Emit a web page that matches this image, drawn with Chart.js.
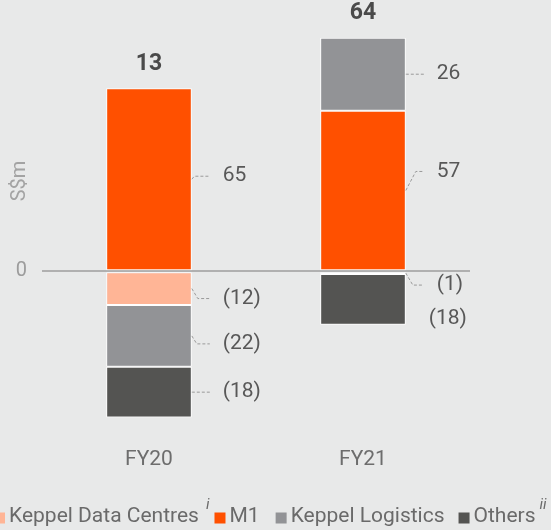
<!DOCTYPE html>
<html>
<head>
<meta charset="utf-8">
<script src="https://cdn.jsdelivr.net/npm/chart.js@4.4.1/dist/chart.umd.min.js"></script>
<style>
  html, body { margin: 0; padding: 0; background: #e8e9e9; }
  #wrap { width: 551px; height: 530px; position: relative; overflow: hidden; }
</style>
</head>
<body>
<div id="wrap"><canvas id="chart" width="551" height="530"></canvas></div>
<script>
// values in S$m
const categories = ['FY20', 'FY21'];
const dataCentres = [-12, -1];
const m1 = [65, 57];
const logistics = [-22, 26];
const others = [-18, -18];
const totals = [13, 64];

const colors = {
    dataCentres: '#ffb596',
    m1: '#ff5000',
    logistics: '#929396',
    others: '#545452'
};

// where each value label sits relative to its segment (pixels), per dataset then per bar
const labelShift = [
    [{ dx: 0, dy: 10, leader: true }, { dx: 0, dy: 12, leader: true }],
    [{ dx: 0, dy: -3, leader: true }, { dx: 0, dy: -19, leader: true }],
    [{ dx: 0, dy: 8, leader: true }, { dx: 0, dy: 0, leader: true }],
    [{ dx: 0, dy: 0, leader: true }, { dx: -8, dy: 19, leader: false }]
];

// legend entries; gapAfter / supGap are spacing in pixels
const legendItems = [
    { text: 'Keppel Data Centres', sup: 'i', supGap: 9, gapAfter: 3, color: colors.dataCentres },
    { text: 'M1', sup: '', supGap: 0, gapAfter: 16, color: colors.m1 },
    { text: 'Keppel Logistics', sup: '', supGap: 0, gapAfter: 14, color: colors.logistics },
    { text: 'Others', sup: 'ii', supGap: 6, gapAfter: 0, color: colors.others }
];

function fmt(v) {
    return v < 0 ? '(' + Math.abs(v) + ')' : String(v);
}

const annotate = {
    id: 'annotate',
    afterDatasetsDraw(chart) {
        const ctx = chart.ctx;
        ctx.save();

        // segment labels with dashed leaders
        chart.data.datasets.forEach(function (ds, di) {
            const meta = chart.getDatasetMeta(di);
            meta.data.forEach(function (bar, i) {
                const v = ds.data[i];
                const shift = labelShift[di][i];
                const edge = bar.x + bar.width / 2;
                const cy = (bar.y + bar.base) / 2;
                const ly = cy + shift.dy;
                if (shift.leader) {
                    ctx.strokeStyle = '#9a9a9a';
                    ctx.lineWidth = 1;
                    ctx.setLineDash([3, 2]);
                    ctx.beginPath();
                    ctx.moveTo(edge, cy);
                    const diag = Math.min(10, Math.abs(shift.dy) / 2 + 1);
                    ctx.lineTo(edge + diag, ly);
                    ctx.lineTo(edge + 18, ly);
                    ctx.stroke();
                    ctx.setLineDash([]);
                }
                ctx.fillStyle = '#585858';
                ctx.font = '21px Roboto';
                ctx.textAlign = 'left';
                ctx.textBaseline = 'middle';
                ctx.fillText(fmt(v), edge + 31 + shift.dx, ly);
            });
        });

        // totals above the bars
        const top = chart.getDatasetMeta(2);
        const yScale = chart.scales.y;
        ctx.font = 'bold 23px Roboto';
        ctx.fillStyle = '#4a4a4a';
        ctx.textAlign = 'center';
        ctx.textBaseline = 'middle';
        top.data.forEach(function (bar, i) {
            const highest = Math.max(m1[i] + Math.max(logistics[i], 0), 0);
            ctx.fillText(String(totals[i]), bar.x, yScale.getPixelForValue(highest) - 24);
        });

        // axis title
        ctx.save();
        ctx.translate(20, 181);
        ctx.rotate(-Math.PI / 2);
        ctx.font = '20px Roboto';
        ctx.fillStyle = '#a3a3a3';
        ctx.fillText('S$m', 0, 0);
        ctx.restore();

        // legend along the bottom, allowed to run past the left edge like the original
        ctx.textBaseline = 'middle';
        ctx.textAlign = 'left';
        const textFont = '21px Roboto';
        const supFont = 'italic 15px Roboto';
        const box = 11, gapBox = 4;
        let x = -6;
        const ly = 517;
        legendItems.forEach(function (it) {
            ctx.fillStyle = it.color;
            ctx.fillRect(x, ly - box / 2 + 1, box, box);
            ctx.fillStyle = '#6a6a6a';
            ctx.font = textFont;
            const tx = x + box + gapBox;
            ctx.fillText(it.text, tx, ly);
            x = tx + ctx.measureText(it.text).width;
            if (it.sup) {
                ctx.font = supFont;
                ctx.fillText(it.sup, x + it.supGap - 2, ly - 12);
                x += it.supGap + ctx.measureText(it.sup).width;
            }
            x += it.gapAfter;
        });

        ctx.restore();
    }
};

new Chart(document.getElementById('chart'), {
    type: 'bar',
    data: {
        labels: categories,
        datasets: [
            { label: 'Keppel Data Centres', data: dataCentres, backgroundColor: colors.dataCentres },
            { label: 'M1', data: m1, backgroundColor: colors.m1 },
            { label: 'Keppel Logistics', data: logistics, backgroundColor: colors.logistics },
            { label: 'Others', data: others, backgroundColor: colors.others }
        ].map(function (d) {
            return Object.assign(d, {
                borderColor: '#ffffff',
                borderWidth: 1,
                borderSkipped: false,
                barPercentage: 0.4,
                categoryPercentage: 1
            });
        })
    },
    options: {
        responsive: false,
        animation: false,
        layout: { padding: { top: 32, right: 81, bottom: 50, left: 0 } },
        plugins: {
            legend: { display: false },
            tooltip: { enabled: false }
        },
        scales: {
            x: {
                stacked: true,
                grid: { display: false, drawTicks: false },
                border: { display: false },
                ticks: { color: '#6d6d6d', font: { family: 'Roboto', size: 21 }, padding: 7 },
                afterFit: function (s) { s.height = 40; }
            },
            y: {
                stacked: true,
                min: -60,
                max: 85,
                border: { display: false },
                grid: {
                    drawTicks: false,
                    color: function (c) { return c.tick && c.tick.value === 0 ? '#b0b0b0' : 'rgba(0,0,0,0)'; },
                    lineWidth: function (c) { return c.tick && c.tick.value === 0 ? 2 : 0; }
                },
                ticks: {
                    stepSize: 5,
                    color: '#9c9c9c',
                    font: { family: 'Roboto', size: 20 },
                    padding: 15,
                    callback: function (v) { return v === 0 ? '0' : ''; }
                },
                afterFit: function (s) { s.width = 42; }
            }
        }
    },
    plugins: [annotate]
});
</script>
</body>
</html>
